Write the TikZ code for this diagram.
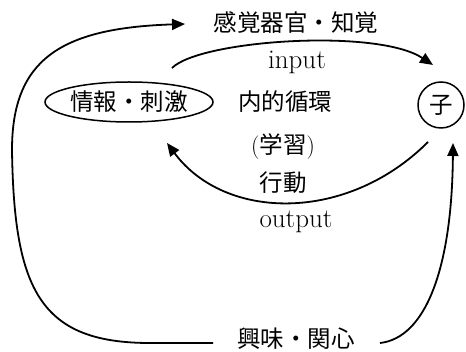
\documentclass[tikz,border=0pt]{standalone}
\usepackage{fontspec}
\newfontfamily\jp{Noto Sans CJK JP}
\usetikzlibrary{arrows.meta,shapes.geometric}
\begin{document}
\begin{tikzpicture}[x=1pt,y=-1pt,
  jtext/.style={inner sep=0pt,font=\jp\fontsize{23.5}{28}\selectfont},
  ltext/.style={inner sep=0pt,font=\fontsize{27}{32}\selectfont},
  conn/.style={line width=1.8pt},
  arr/.style={conn,-{Triangle[length=13pt,width=11pt]}}]
\useasboundingbox (0,0) rectangle (466,352);
% nodes
\node[jtext] (sense) at (296,23) {感覚器官・知覚};
\node[ltext] (input) at (297,62) {input};
\node[jtext,draw,ellipse,line width=1.5pt,minimum width=168pt,minimum height=40pt] (info) at (129,102) {情報・刺激};
\node[jtext] (inner) at (285,102) {内的循環};
\node[jtext,draw,circle,line width=1.5pt,minimum size=46pt] (child) at (441,105) {子};
\node[jtext] (learn) at (283,147) {{\rmfamily(}学習{\rmfamily)}};
\node[jtext] (act) at (283,183) {行動};
\node[ltext] (output) at (296,222) {output};
\node[jtext] (interest) at (296,339) {興味・関心};
% free ends
\coordinate (inS) at (172,68);
\coordinate (inE) at (433,65);
\coordinate (outS) at (428,142);
\coordinate (outE) at (167,143);
\coordinate (lS) at (213,343);
\coordinate (lE) at (185,24);
\coordinate (rS) at (380,343);
\coordinate (rE) at (453,143);
% connectors
\draw[arr] (inS) .. controls (200,40) and (377,28) .. (inE);
\draw[arr] (outS) .. controls (347,223) and (225,221) .. (outE);
\draw[arr] (lS) -- (150,343) .. controls (40,343) and (14,290) .. (12,150)
  .. controls (12,60) and (60,28) .. (lE);
\draw[arr] (rS) .. controls (425,338) and (452,270) .. (rE);
\end{tikzpicture}
\end{document}
